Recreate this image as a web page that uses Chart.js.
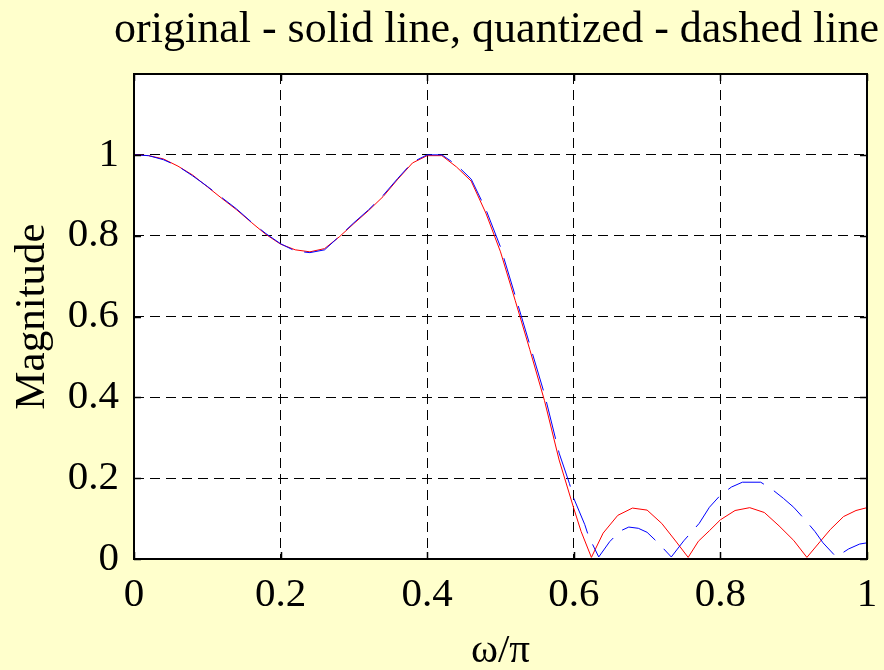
<!DOCTYPE html>
<html lang="en">
<head>
  <meta charset="UTF-8">
  <title>original - solid line, quantized - dashed line</title>
  <script src="https://cdn.jsdelivr.net/npm/chart.js"></script>
  <style>
    body {
      margin: 0;
      background-color: #ffffcc;
    }
    .wrap {
      width: 884px;
      height: 670px;
    }
  </style>
</head>
<body>
  <div class="wrap"><canvas id="magChart"></canvas></div>

  <script>
    // original filter response (solid red)
    const omegaOrig = [0, 0.02, 0.04, 0.06, 0.08, 0.10, 0.12, 0.14, 0.16, 0.18, 0.20, 0.22, 0.24, 0.26,
      0.28, 0.30, 0.32, 0.34, 0.36, 0.38, 0.40, 0.42, 0.44, 0.46, 0.48, 0.50, 0.52, 0.54, 0.56, 0.58,
      0.60, 0.61, 0.624, 0.64, 0.66, 0.68, 0.70, 0.72, 0.74, 0.756, 0.77, 0.785, 0.80, 0.82, 0.84,
      0.86, 0.88, 0.90, 0.918, 0.936, 0.95, 0.968, 0.985, 1.0];
    const magOrig = [1.000, 0.998, 0.990, 0.972, 0.950, 0.921, 0.892, 0.864, 0.833, 0.803, 0.779, 0.765, 0.760, 0.768,
      0.797, 0.830, 0.862, 0.897, 0.940, 0.980, 0.998, 0.998, 0.970, 0.935, 0.856, 0.760, 0.640, 0.518, 0.392, 0.245,
      0.125, 0.068, 0.004, 0.064, 0.108, 0.126, 0.121, 0.088, 0.042, 0.004, 0.044, 0.070, 0.097, 0.120, 0.127,
      0.115, 0.082, 0.046, 0.004, 0.043, 0.073, 0.105, 0.120, 0.127];

    // quantized coefficients (dashed blue)
    const omegaQuant = [0, 0.02, 0.04, 0.06, 0.08, 0.10, 0.12, 0.14, 0.16, 0.18, 0.20, 0.22, 0.24, 0.26,
      0.28, 0.30, 0.32, 0.34, 0.36, 0.38, 0.40, 0.42, 0.44, 0.46, 0.48, 0.50, 0.52, 0.54, 0.56, 0.58,
      0.594, 0.60, 0.615, 0.62, 0.634, 0.649, 0.663, 0.675, 0.688, 0.70, 0.715, 0.733, 0.75, 0.771,
      0.785, 0.80, 0.815, 0.83, 0.855, 0.87, 0.886, 0.90, 0.915, 0.929, 0.94, 0.958, 0.975, 0.99, 1.0];
    const magQuant = [1.000, 0.998, 0.988, 0.972, 0.948, 0.922, 0.894, 0.866, 0.834, 0.805, 0.780, 0.762, 0.758, 0.765,
      0.798, 0.832, 0.864, 0.900, 0.942, 0.982, 1.000, 1.000, 0.975, 0.940, 0.865, 0.772, 0.652, 0.530, 0.408, 0.262,
      0.187, 0.150, 0.085, 0.057, 0.005, 0.043, 0.069, 0.079, 0.076, 0.066, 0.040, 0.005, 0.045, 0.088,
      0.128, 0.158, 0.178, 0.190, 0.190, 0.173, 0.150, 0.128, 0.098, 0.068, 0.040, 0.005, 0.025, 0.037, 0.040];

    const xTicks = [0, 0.2, 0.4, 0.6, 0.8, 1];
    const yTicks = [0, 0.2, 0.4, 0.6, 0.8, 1];

    const FONT = '"Liberation Serif", "Times New Roman", serif';

    function toPoints(xs, ys) {
      return xs.map((x, i) => ({ x: x, y: ys[i] }));
    }

    function fmt(v) {
      return String(Math.round(v * 10) / 10);
    }

    // yellow page, white axes box, black frame with inward ticks, title
    const framePlugin = {
      id: 'frame',
      beforeDraw(chart) {
        const { ctx, chartArea: a } = chart;
        ctx.save();
        ctx.fillStyle = '#ffffcc';
        ctx.fillRect(0, 0, chart.width, chart.height);
        ctx.fillStyle = '#ffffff';
        ctx.fillRect(a.left, a.top, a.right - a.left, a.bottom - a.top);
        ctx.restore();
      },
      afterDraw(chart) {
        const { ctx, chartArea: a, scales } = chart;
        ctx.save();
        ctx.strokeStyle = '#000';
        ctx.lineWidth = 1.5;
        ctx.beginPath();
        xTicks.forEach(v => {
          const px = Math.round(scales.x.getPixelForValue(v)) + 0.5;
          ctx.moveTo(px, a.bottom); ctx.lineTo(px, a.bottom - 7);
          ctx.moveTo(px, a.top); ctx.lineTo(px, a.top + 7);
        });
        yTicks.forEach(v => {
          const py = Math.round(scales.y.getPixelForValue(v)) + 0.5;
          ctx.moveTo(a.left, py); ctx.lineTo(a.left + 7, py);
          ctx.moveTo(a.right, py); ctx.lineTo(a.right - 7, py);
        });
        ctx.stroke();
        ctx.lineWidth = 2;
        ctx.strokeRect(a.left, a.top, a.right - a.left, a.bottom - a.top);

        ctx.fillStyle = '#000';
        ctx.font = '44px ' + FONT;
        ctx.textAlign = 'center';
        ctx.textBaseline = 'alphabetic';
        ctx.fillText('original - solid line, quantized - dashed line', (a.left + a.right) / 2 - 4, 42);
        ctx.restore();
      }
    };

    const ctx = document.getElementById('magChart').getContext('2d');
    const magChart = new Chart(ctx, {
      type: 'line',
      data: {
        datasets: [
          {
            label: 'quantized',
            data: toPoints(omegaQuant, magQuant),
            borderColor: '#0000ff',
            borderWidth: 1,
            borderDash: [38, 12],
            pointRadius: 0,
            tension: 0,
            order: 0
          },
          {
            label: 'original',
            data: toPoints(omegaOrig, magOrig),
            borderColor: '#ff0000',
            borderWidth: 1,
            pointRadius: 0,
            tension: 0,
            order: 1
          }
        ]
      },
      options: {
        responsive: true,
        maintainAspectRatio: false,
        animation: false,
        layout: {
          padding: { top: 74, right: 17, left: 0, bottom: 0 }
        },
        plugins: {
          legend: { display: false },
          tooltip: { enabled: false },
          title: { display: false }
        },
        scales: {
          x: {
            type: 'linear',
            min: 0,
            max: 1,
            afterFit: s => {
              s.height = 111;
              s.paddingLeft = 0;
              s.paddingRight = 0;
            },
            afterBuildTicks: s => { s.ticks = xTicks.map(v => ({ value: v })); },
            ticks: {
              color: '#000',
              font: { family: FONT, size: 41, lineHeight: 1.2 },
              padding: 12,
              maxRotation: 0,
              callback: v => fmt(v)
            },
            grid: {
              color: '#000',
              lineWidth: 1,
              drawTicks: false
            },
            border: { display: false, dash: [10, 6] },
            title: {
              display: true,
              text: 'ω/π',
              color: '#000',
              font: { family: FONT, size: 41, lineHeight: 0.9 },
              padding: { top: 0, bottom: 0 }
            }
          },
          y: {
            min: 0,
            max: 1.2,
            afterFit: s => {
              s.width = 134;
              s.paddingTop = 0;
              s.paddingBottom = 0;
            },
            afterBuildTicks: s => { s.ticks = yTicks.map(v => ({ value: v })); },
            ticks: {
              color: '#000',
              font: { family: FONT, size: 41, lineHeight: 1.2 },
              padding: 15,
              callback: v => fmt(v)
            },
            grid: {
              color: '#000',
              lineWidth: 1,
              drawTicks: false
            },
            border: { display: false, dash: [10, 6] },
            title: {
              display: true,
              text: 'Magnitude',
              color: '#000',
              font: { family: FONT, size: 43, lineHeight: 1 },
              padding: { top: 11, bottom: 0 }
            }
          }
        }
      },
      plugins: [framePlugin]
    });
  </script>
</body>
</html>
